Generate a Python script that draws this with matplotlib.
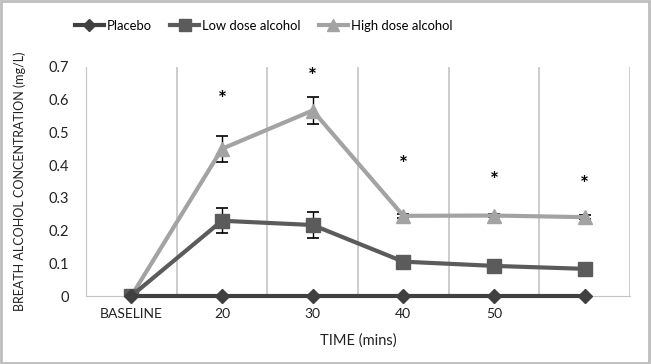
import matplotlib
matplotlib.use("Agg")
import matplotlib.pyplot as plt
from matplotlib.patches import Rectangle
from matplotlib.lines import Line2D

plt.rcParams['font.family'] = ['Lato', 'DejaVu Sans']

categories = ["BASELINE", "20", "30", "40", "50", ""]
placebo = [0, 0, 0, 0, 0, 0]
low = [0, 0.230, 0.217, 0.105, 0.092, 0.083]
low_err = [0, 0.038, 0.040, 0.006, 0.006, 0.006]
high = [0, 0.450, 0.567, 0.245, 0.246, 0.241]
high_err = [0, 0.040, 0.040, 0.006, 0.006, 0.006]
star_y = [None, 0.598, 0.668, 0.40, 0.35, 0.34]
yticks = [0, 0.1, 0.2, 0.3, 0.4, 0.5, 0.6, 0.7]
ytick_labels = ["0", "0.1", "0.2", "0.3", "0.4", "0.5", "0.6", "0.7"]
series_names = ["Placebo", "Low dose alcohol", "High dose alcohol"]

W, H = 651, 364
fig = plt.figure(figsize=(W / 100, H / 100), dpi=100)
ax = fig.add_axes([86 / W, (H - 296) / H, (630 - 86) / W, (296 - 67) / H])

x = list(range(len(categories)))
c_pl, c_lo, c_hi = "#404040", "#5b5b5b", "#a3a3a3"

# vertical gridlines at category boundaries
for b in [i - 0.5 for i in range(len(categories) + 1)]:
    ax.axvline(b, color="#c4c4c4", lw=1.2, zorder=0)

ax.errorbar(x, high, yerr=high_err, color=c_hi, lw=3, marker="^", ms=10,
            ecolor="black", elinewidth=1, capsize=4, capthick=1.2, zorder=3)
ax.errorbar(x, low, yerr=low_err, color=c_lo, lw=3, marker="s", ms=10,
            ecolor="black", elinewidth=1, capsize=4, capthick=1.2, zorder=4)
ax.plot(x, placebo, color=c_pl, lw=3, marker="D", ms=7, zorder=5, clip_on=False)

for xi, sy in zip(x, star_y):
    if sy is not None:
        ax.text(xi, sy, "*", ha="center", va="center", fontsize=15,
                fontweight="bold", color="black")

ax.set_xlim(-0.5, len(categories) - 0.5)
ax.set_ylim(0, 0.7)
ax.set_yticks(yticks)
ax.set_yticklabels(ytick_labels, fontsize=10.5, color="#222222")
ax.set_xticks(x)
ax.set_xticklabels(categories, fontsize=10, color="#222222")
ax.tick_params(length=0, pad=12)
ax.tick_params(axis="x", pad=9)
for s in ["top", "right"]:
    ax.spines[s].set_visible(False)
ax.spines["left"].set_color("#c4c4c4")
ax.spines["bottom"].set_color("#c4c4c4")

ax.set_xlabel("TIME (mins)", fontsize=10.5, color="#222222", labelpad=9)
ax.set_ylabel("BREATH ALCOHOL CONCENTRATION (mg/L)", fontsize=9,
              color="#222222", labelpad=16)

handles = [
    Line2D([], [], color=c_pl, lw=3, marker="D", ms=6),
    Line2D([], [], color=c_lo, lw=3, marker="s", ms=8),
    Line2D([], [], color=c_hi, lw=3, marker="^", ms=8),
]
fig.legend(handles, series_names, loc="center", bbox_to_anchor=(0.405, 1 - 26 / H),
           ncol=3, frameon=False, fontsize=9.4, handlelength=2.2,
           handletextpad=0.25, columnspacing=1.4)

fig.patches.append(Rectangle((0.002, 0.003), 0.995, 0.994, transform=fig.transFigure,
                             fill=False, edgecolor="#bdbdbd", lw=2))

fig.savefig("out.png", dpi=100, facecolor="white")
